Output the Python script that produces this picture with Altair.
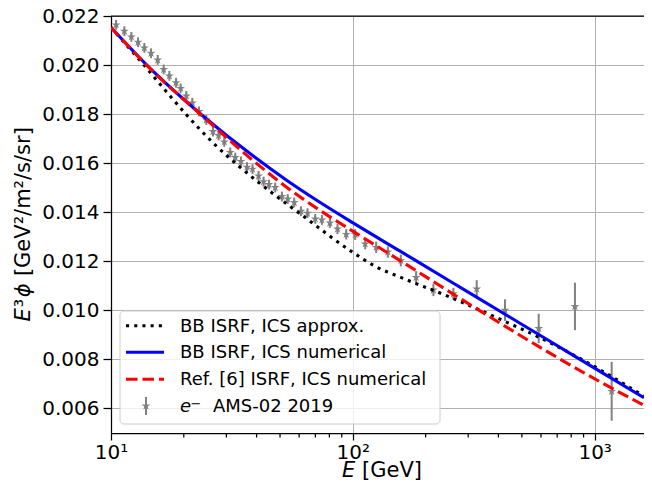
import altair as alt
import pandas as pd

# ---------------- data ----------------
# AMS-02 2019 electrons: energy [GeV], E^3 * flux, 1-sigma error
E_DATA = [10.50, 11.36, 12.14, 12.94, 13.74, 14.64, 15.60, 16.51, 17.43, 18.58,
          19.41, 20.49, 21.69, 23.12, 24.78, 26.41, 27.86, 29.41, 31.13, 32.65,
          34.47, 36.50, 38.49, 40.76, 42.75, 45.00, 47.77, 50.91, 53.82, 57.24,
          61.01, 64.96, 69.92, 74.50, 80.39, 86.42, 93.88, 102.3, 112.5, 124.9,
          139.6, 157.9, 182.7, 215.4, 260.5, 325.4, 426.0, 587.1, 829.0, 1176.0]
FLUX = [0.02164, 0.02138, 0.02115, 0.02093, 0.02070, 0.02048, 0.02021, 0.01982, 0.01956, 0.01928,
        0.01905, 0.01874, 0.01846, 0.01811, 0.01776, 0.01729, 0.01713, 0.01687, 0.01644, 0.01623,
        0.01607, 0.01584, 0.01576, 0.01548, 0.01525, 0.01513, 0.01501, 0.01464, 0.01454, 0.01440,
        0.01404, 0.01396, 0.01373, 0.01369, 0.01356, 0.01332, 0.01310, 0.01309, 0.01271, 0.01257,
        0.01238, 0.01203, 0.01134, 0.01083, 0.01068, 0.01087, 0.01001, 0.00926, 0.01016, 0.00670]
ERR = [0.00020] * 35 + [0.00021, 0.00021, 0.00022, 0.00022, 0.00023,
                        0.00023, 0.00024, 0.00026, 0.00025, 0.00024,
                        0.00036, 0.00044, 0.00060, 0.00097, 0.00120]

# model curves
E_CURVE = [10, 14.55, 23.40, 38.87, 53.41, 73.32, 100.6, 156.9, 252.5, 406.2, 653.6, 1051.6, 1600]
BB_NUMERICAL = [0.02153, 0.019853, 0.018016, 0.016278, 0.015294, 0.014396, 0.013555, 0.012412,
                0.011188, 0.009963, 0.008739, 0.007514, 0.006437]
REF6_NUMERICAL = [0.02153, 0.019841, 0.018004, 0.01609, 0.015008, 0.01407, 0.013212, 0.012029,
                  0.010743, 0.009478, 0.008253, 0.00709, 0.00613]
E_APPROX = [10, 13.65, 17.05, 20.63, 26.57, 34.24, 47.01, 60.6, 100.6, 123.7, 156.9, 252.5,
            406.2, 653.6, 1051.6, 1600]
BB_APPROX = [0.02153, 0.020012, 0.018886, 0.017947, 0.016808, 0.015829, 0.014743, 0.013935,
             0.012347, 0.011796, 0.011355, 0.010539, 0.009641, 0.008682, 0.00758, 0.006502]

X_MAJOR = [10, 100, 1000]
X_MINOR = [20, 30, 40, 50, 60, 70, 80, 90, 200, 300, 400, 500, 600, 700, 800, 900]
Y_TICKS = [0.006, 0.008, 0.010, 0.012, 0.014, 0.016, 0.018, 0.020, 0.022]
X_DOMAIN = [10, 1600]
Y_DOMAIN = [0.005, 0.022]

LEGEND_LABELS = ["BB ISRF, ICS approx.", "BB ISRF, ICS numerical",
                 "Ref. [6] ISRF, ICS numerical", "AMS-02 2019"]

# ---------------- styling / layout ----------------
W, H = 533, 417
FONT = "DejaVu Sans"
STAR = ("M0,-1L0.2245,-0.309L0.9511,-0.309L0.3633,0.118L0.5878,0.809L0,0.382"
        "L-0.5878,0.809L-0.3633,0.118L-0.9511,-0.309L-0.2245,-0.309Z")
LW = 3.1
TF = 21  # axis-title font size

data_df = pd.DataFrame({"E": E_DATA, "val": FLUX,
                        "lo": [f - e for f, e in zip(FLUX, ERR)],
                        "hi": [f + e for f, e in zip(FLUX, ERR)]})
num_df = pd.DataFrame({"E": E_CURVE, "val": BB_NUMERICAL})
ref_df = pd.DataFrame({"E": E_CURVE, "val": REF6_NUMERICAL})
app_df = pd.DataFrame({"E": E_APPROX, "val": BB_APPROX})
minor_df = pd.DataFrame({"E": X_MINOR})
one = pd.DataFrame({"k": [0]})

xscale = alt.Scale(type="log", domain=X_DOMAIN, nice=False)
yscale = alt.Scale(domain=Y_DOMAIN, nice=False, zero=False)
xaxis = alt.Axis(values=X_MAJOR, title=None, grid=True, tickSize=7, labelPadding=2,
                 labelFlush=False, labelOverlap=False,
                 labelExpr="datum.value == 10 ? '10¹' : (datum.value == 100 ? '10²' : '10³')")
yaxis = alt.Axis(values=Y_TICKS, format=".3f", title=None, grid=True, tickSize=8,
                 labelPadding=4, labelFlush=False, labelOverlap=False)

X = alt.X("E:Q", scale=xscale, axis=xaxis)


def Y(field):
    return alt.Y(field, type="quantitative", scale=yscale, axis=yaxis)


errbars = alt.Chart(data_df).mark_rule(color="gray", strokeWidth=2).encode(
    x=X, y=Y("lo"), y2="hi:Q")
stars = alt.Chart(data_df).mark_point(shape=STAR, filled=True, color="gray", size=85,
                                      opacity=1, strokeWidth=0).encode(x=X, y=Y("val"))
approx_line = alt.Chart(app_df).mark_line(color="black", strokeWidth=LW,
                                          strokeDash=[3.1, 5.1], interpolate="monotone",
                                          clip=True).encode(x=X, y=Y("val"))
num_line = alt.Chart(num_df).mark_line(color="#0000ff", strokeWidth=LW,
                                       interpolate="monotone", clip=True).encode(x=X, y=Y("val"))
ref_line = alt.Chart(ref_df).mark_line(color="#ff0000", strokeWidth=LW,
                                       strokeDash=[11.5, 5], interpolate="monotone",
                                       clip=True).encode(x=X, y=Y("val"))
minor_ticks = alt.Chart(minor_df).mark_rule(color="black", strokeWidth=1.25).encode(
    x=X, y=alt.value(H), y2=alt.value(H + 4.5))
top_spine = alt.Chart(one).mark_rule(color="black", strokeWidth=1.25).encode(
    x=alt.value(0), x2=alt.value(W), y=alt.value(0))


def txt(s, x, y, size=20, style="normal", align="left", baseline="middle", angle=0):
    return alt.Chart(one).mark_text(text=s, font=FONT, fontSize=size, fontStyle=style,
                                    align=align, baseline=baseline, angle=angle,
                                    color="black").encode(x=alt.value(x), y=alt.value(y))


# axis titles
x_title = [txt("E", 231, 460.5, size=TF, style="italic", baseline="alphabetic"),
           txt("[GeV]", 251, 460.5, size=TF, baseline="alphabetic")]
YB = 305.5
y_title = [txt("E", -81, YB, size=TF, style="italic", baseline="alphabetic", angle=270),
           txt("³", -81, YB - 14.3, size=TF, baseline="alphabetic", angle=270),
           txt("ϕ", -81, YB - 24.2, size=TF, style="italic", baseline="alphabetic", angle=270),
           txt("[GeV²/m²/s/sr]", -81, YB - 45.4, size=TF, baseline="alphabetic", angle=270)]

# legend
ROWS = [309.7, 336.3, 363.3, 390.0]
box = alt.Chart(one).mark_rect(fill="white", fillOpacity=0.8, stroke="#cccccc",
                               strokeWidth=1, cornerRadius=4).encode(
    x=alt.value(9), x2=alt.value(329), y=alt.value(295), y2=alt.value(408))
leg = [box]
leg.append(alt.Chart(one).mark_rule(color="black", strokeWidth=LW, strokeDash=[3.1, 5.1]).encode(
    x=alt.value(15), x2=alt.value(53), y=alt.value(ROWS[0])))
leg.append(alt.Chart(one).mark_rule(color="#0000ff", strokeWidth=LW).encode(
    x=alt.value(15), x2=alt.value(53), y=alt.value(ROWS[1])))
leg.append(alt.Chart(one).mark_rule(color="#ff0000", strokeWidth=LW, strokeDash=[11.5, 5]).encode(
    x=alt.value(15), x2=alt.value(53), y=alt.value(ROWS[2])))
leg.append(alt.Chart(one).mark_rule(color="gray", strokeWidth=2).encode(
    x=alt.value(35), y=alt.value(ROWS[3] - 9), y2=alt.value(ROWS[3] + 9)))
leg.append(alt.Chart(one).mark_point(shape=STAR, filled=True, color="gray", size=85,
                                     opacity=1, strokeWidth=0).encode(
    x=alt.value(35), y=alt.value(ROWS[3])))
for i in range(3):
    leg.append(txt(LEGEND_LABELS[i], 69, ROWS[i] + 1, size=18))
leg.append(txt("e", 69, ROWS[3] + 1, size=18, style="italic"))
leg.append(txt("−", 79.5, ROWS[3] - 2, size=13, baseline="middle"))
leg.append(txt(LEGEND_LABELS[3], 102, ROWS[3] + 1, size=18))

chart = alt.layer(
    errbars, stars, approx_line, num_line, ref_line, minor_ticks, top_spine,
    *x_title, *y_title, *leg
).properties(
    width=W, height=H,
    padding={"left": 103, "top": 8, "right": 0, "bottom": 48},
    autosize=alt.AutoSizeParams(type="none"),
    background="white",
).configure_view(strokeWidth=0).configure_axis(
    labelFont=FONT, labelFontSize=20, labelColor="black",
    domainColor="black", domainWidth=1.25, tickColor="black", tickWidth=1.25,
    gridColor="#b0b0b0", gridWidth=1,
)

chart.save("out.html", embed_options={"renderer": "svg", "actions": False})
